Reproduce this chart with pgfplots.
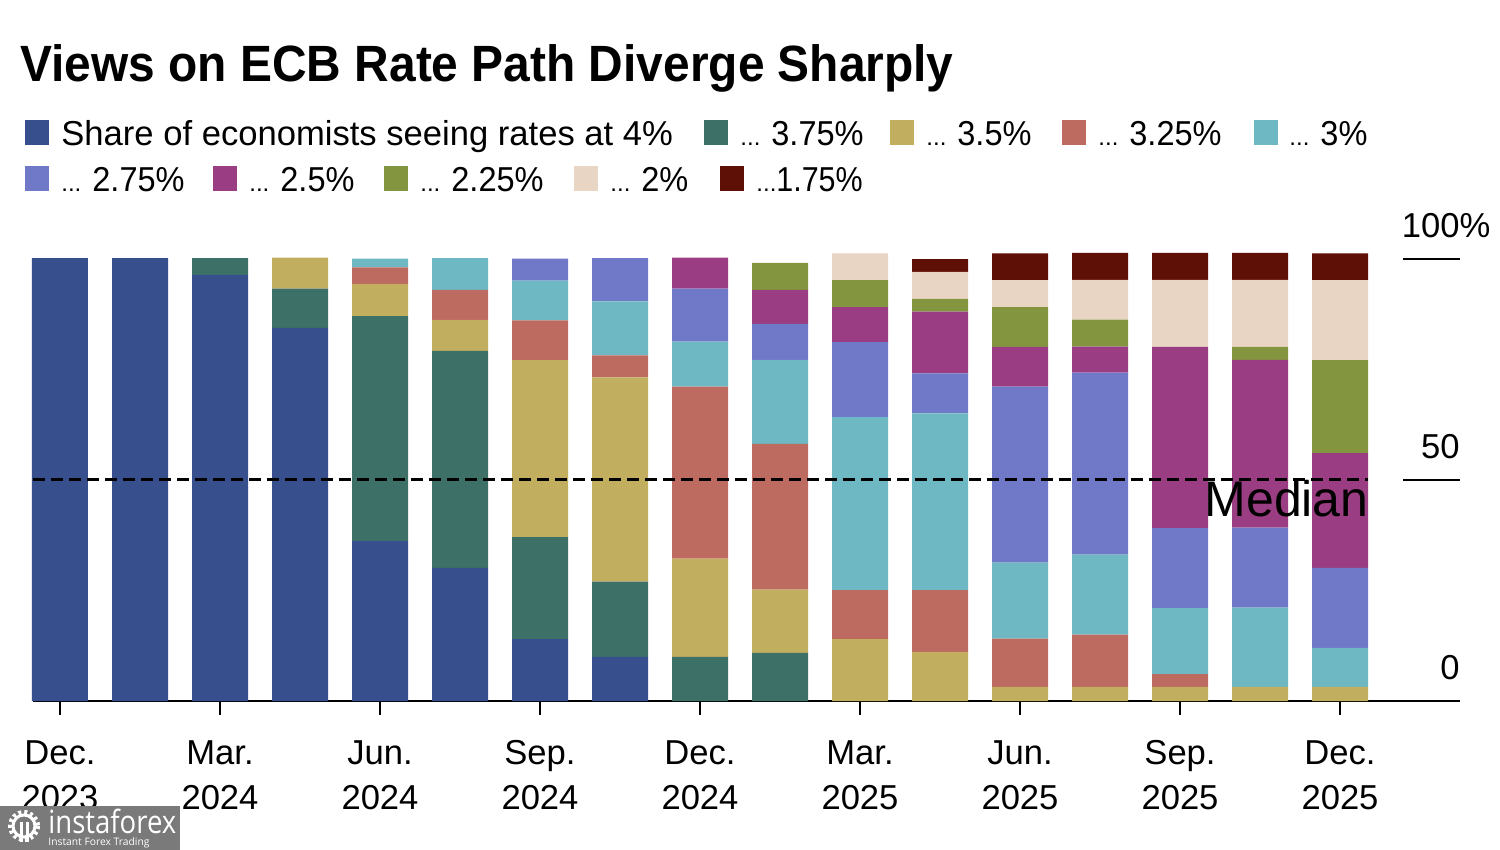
\documentclass[border=0pt]{standalone}
\usepackage{fontspec}
\setmainfont{Liberation Sans}
\newfontfamily\wmfont{Open Sans}
\usepackage{graphicx}
\usepackage{pgfplots}
\usepackage{pgfplotstable}
\pgfplotsset{compat=1.18}
\definecolor{c400}{HTML}{374F8C}
\definecolor{c375}{HTML}{3D7066}
\definecolor{c350}{HTML}{C2AE5F}
\definecolor{c325}{HTML}{BD6A60}
\definecolor{c300}{HTML}{6EB8C3}
\definecolor{c275}{HTML}{7078C8}
\definecolor{c250}{HTML}{9B3D82}
\definecolor{c225}{HTML}{83963F}
\definecolor{c200}{HTML}{E8D5C4}
\definecolor{c175}{HTML}{5E0F06}
\pgfplotstableread{
x  r400  r375 r350 r325 r300 r275 r250 r225 r200 r175
0  100.2 0    0    0    0    0    0    0    0    0
1  100.2 0    0    0    0    0    0    0    0    0
2  96.4  3.8  0    0    0    0    0    0    0    0
3  84.4  8.9  7.0  0    0    0    0    0    0    0
4  36.2  50.9 7.2  3.8  2.0  0    0    0    0    0
5  30.1  49.1 7.0  6.8  7.2  0    0    0    0    0
6  14.0  23.1 40.0 9.0  9.0  5.0  0    0    0    0
7  10.0  17.0 46.2 5.0  12.2 9.8  0    0    0    0
8  0     10.0 22.2 38.9 10.2 12.0 7.0  0    0    0
9  0     10.9 14.3 33.0 19.0 8.1  7.7  6.1  0    0
10 0     0    14.0 11.1 39.1 17.0 7.9  6.1  6.1  0
11 0     0    11.1 14.0 40.0 9.0  14.0 2.9  6.1  2.9
12 0     0    3.2  10.9 17.2 39.8 9.0  9.0  6.1  6.1
13 0     0    3.2  11.8 18.1 41.2 5.9  6.1  9.0  6.1
14 0     0    3.2  2.9  14.9 18.1 41.0 0    15.2 6.1
15 0     0    3.2  0    17.9 18.1 38.0 2.9  15.2 6.1
16 0     0    3.2  0    8.8  18.1 26.0 21.0 18.1 6.1
}\ratedata
\newcommand{\dd}{{\fontsize{12}{12}\selectfont ...}\hspace{5.5pt}}
\newcommand{\nm}[1]{\scalebox{0.94}[1]{#1}}
\newcommand{\tl}[2]{\rule{0pt}{14pt}#1\\#2}
\newcommand{\legitem}[5]{%
  \fill[#4] (#1,#3-26) rectangle ++(24,25);
  \node[anchor=base west,inner sep=0pt,font=\fontsize{17.3}{20}\selectfont] at (#2,#3) {#5};}
\begin{document}
\begin{tikzpicture}[x=0.5pt,y=-0.5pt]
\path (0,0) rectangle (1500,850);
\node[anchor=base west,inner sep=0pt,font=\fontsize{25.5}{30}\selectfont\bfseries] at (20,82) {\scalebox{0.939}[1]{Views on ECB Rate Path Diverge Sharply}};
\legitem{25}{61}{146}{c400}{Share of economists seeing rates at 4\%}
\legitem{704}{740}{146}{c375}{\dd\nm{3.75\%}}
\legitem{890}{926}{146}{c350}{\dd\nm{3.5\%}}
\legitem{1062}{1098}{146}{c325}{\dd\nm{3.25\%}}
\legitem{1254}{1289}{146}{c300}{\dd\nm{3\%}}
\legitem{25}{61}{192}{c275}{\dd\nm{2.75\%}}
\legitem{213}{249}{192}{c250}{\dd\nm{2.5\%}}
\legitem{384}{420}{192}{c225}{\dd\nm{2.25\%}}
\legitem{574}{610}{192}{c200}{\dd\nm{2\%}}
\legitem{720}{756}{192}{c175}{{\fontsize{12}{12}\selectfont ...}\scalebox{0.88}[1]{1.75\%}}
\begin{axis}[
  at={(16.5pt,-350.5pt)},anchor=south west,
  scale only axis,width=713.5pt,height=243.1pt,
  xmin=-0.3375,xmax=17.5,ymin=0,ymax=110,
  clip=false,
  ybar stacked,bar width=28pt,
  axis x line*=bottom,axis y line*=right,
  y axis line style={draw=none},
  x axis line style={black,line width=1pt,-},
  tick align=outside,major tick length=7pt,
  xtick={0,2,...,16},
  xticklabels={{\tl{Dec.}{2023}},{\tl{Mar.}{2024}},{\tl{Jun.}{2024}},{\tl{Sep.}{2024}},{\tl{Dec.}{2024}},{\tl{Mar.}{2025}},{\tl{Jun.}{2025}},{\tl{Sep.}{2025}},{\tl{Dec.}{2025}}},
  xticklabel style={align=center,font=\fontsize{17.3}{22.5}\selectfont,yshift=-7pt},
  xtick style={black,line width=1pt},
  ytick={0,50,100},
  yticklabels={0,50,100\rlap{\%}},
  ytick style={draw=none},
  yticklabel style={anchor=south east,font=\fontsize{17.3}{20}\selectfont,xshift=-7pt,yshift=10.5pt,inner sep=0pt},
]
\addplot[fill=c400,draw=none] table[x=x,y=r400]{\ratedata};
\addplot[fill=c375,draw=none] table[x=x,y=r375]{\ratedata};
\addplot[fill=c350,draw=none] table[x=x,y=r350]{\ratedata};
\addplot[fill=c325,draw=none] table[x=x,y=r325]{\ratedata};
\addplot[fill=c300,draw=none] table[x=x,y=r300]{\ratedata};
\addplot[fill=c275,draw=none] table[x=x,y=r275]{\ratedata};
\addplot[fill=c250,draw=none] table[x=x,y=r250]{\ratedata};
\addplot[fill=c225,draw=none] table[x=x,y=r225]{\ratedata};
\addplot[fill=c200,draw=none] table[x=x,y=r200]{\ratedata};
\addplot[fill=c175,draw=none] table[x=x,y=r175]{\ratedata};
\end{axis}
\begin{axis}[
  at={(16.5pt,-350.5pt)},anchor=south west,
  scale only axis,width=713.5pt,height=243.1pt,
  xmin=-0.3375,xmax=17.5,ymin=0,ymax=110,
  axis lines=none,clip=false,
]
\addplot[black,line width=1.5pt,dash pattern=on 6pt off 3pt] coordinates {(-0.3375,50) (16.35,50)};
\addplot[black,line width=1pt] coordinates {(16.7875,50) (17.5,50)};
\addplot[black,line width=1pt] coordinates {(16.7875,100) (17.5,100)};
\end{axis}
\node[anchor=base east,inner sep=0pt,font=\fontsize{25}{30}\selectfont] at (1369,516) {Median};
% watermark
\fill[black!52] (0,806) rectangle (180,850);
\draw[white,line width=2pt,dash pattern=on 1.5pt off 1.5pt] (24,826) circle[radius=14];
\draw[white,line width=1.5pt] (24,826) circle[radius=11];
\fill[white] (20,822) rectangle (23,842);\fill[white] (26,822) rectangle (29,842);
\node[anchor=base west,inner sep=0pt,text=white,font=\wmfont\fontsize{16}{20}\selectfont] at (48,833) {\scalebox{0.86}[1]{instaforex}};
\node[anchor=base west,inner sep=0pt,text=white,font=\wmfont\fontsize{5.15}{7}\selectfont] at (48,845) {Instant Forex Trading};
\end{tikzpicture}
\end{document}
